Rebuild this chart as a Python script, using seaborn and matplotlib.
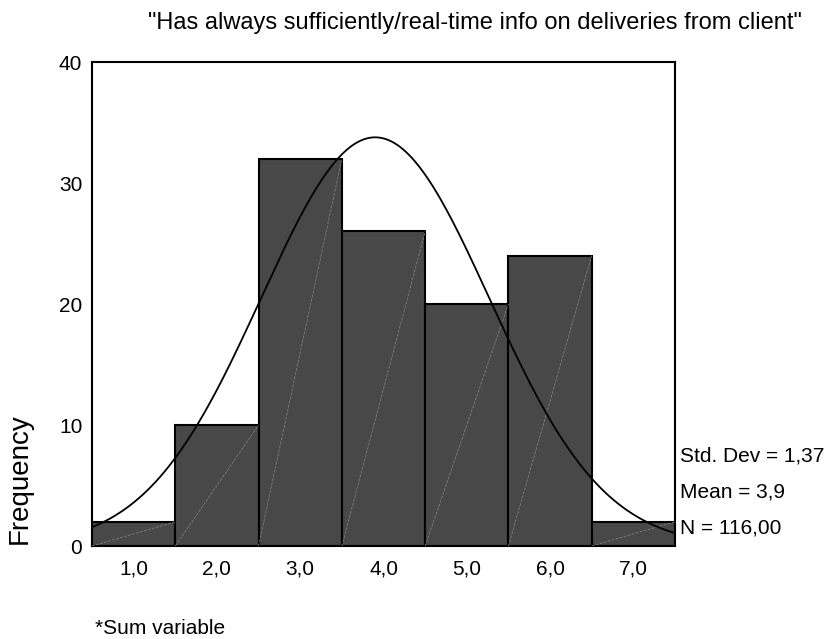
import numpy as np
import pandas as pd
import matplotlib
matplotlib.use("Agg")
import matplotlib.pyplot as plt
import seaborn as sns

# values
scores = [1, 2, 3, 4, 5, 6, 7]
counts = [2, 10, 32, 26, 20, 24, 2]
tick_labels = ["1,0", "2,0", "3,0", "4,0", "5,0", "6,0", "7,0"]
mean, std_dev, n = 3.9, 1.37, 116

df = pd.DataFrame({"score": scores, "count": counts})

sns.set_style("white")
plt.rcParams["font.family"] = ["Liberation Sans", "DejaVu Sans"]
plt.rcParams["text.color"] = "black"
plt.rcParams["axes.labelcolor"] = "black"
plt.rcParams["xtick.color"] = "black"
plt.rcParams["ytick.color"] = "black"

fig = plt.figure(figsize=(8.31, 6.39), dpi=100)
ax = fig.add_axes([0.1107, 0.1455, 0.7016, 0.7574])

sns.histplot(data=df, x="score", weights="count", discrete=True,
             color="#484848", edgecolor="black", linewidth=1.5, alpha=1, ax=ax)

# faint diagonal streak inside each bar
for p in ax.patches:
    x0, y0 = p.get_x(), p.get_y()
    ax.plot([x0, x0 + p.get_width()], [y0, y0 + p.get_height()],
            color="#8a8a8a", lw=0.5, ls="--", dashes=(4, 2), zorder=3)

# normal curve
xs = np.linspace(0.5, 7.5, 400)
ys = n * 1.0 / (std_dev * np.sqrt(2 * np.pi)) * np.exp(-0.5 * ((xs - mean) / std_dev) ** 2)
ax.plot(xs, ys, color="black", lw=1.3, zorder=4)

ax.set_xlim(0.5, 7.5)
ax.set_ylim(0, 40)
ax.set_xticks(scores)
ax.set_xticklabels(tick_labels)
ax.set_yticks([0, 10, 20, 30, 40])
ax.tick_params(axis="both", which="both", direction="out", length=3, width=3,
               labelsize=15, color="black", labelcolor="black", pad=7)
ax.tick_params(axis="y", pad=4)
for s in ax.spines.values():
    s.set_visible(True)
    s.set_color("black")
    s.set_linewidth(1.5)

ax.set_xlabel("")
ax.set_ylabel("Frequency", fontsize=20, color="black")
ax.yaxis.set_label_coords(-0.101, 0.14)

ax.set_title('"Has always sufficiently/real-time info on deliveries from client"',
             fontsize=17, pad=24, x=0.657, color="black")

ax.text(1.008, 0.186, "Std. Dev = 1,37", transform=ax.transAxes, fontsize=15, va="center")
ax.text(1.008, 0.112, "Mean = 3,9", transform=ax.transAxes, fontsize=15, va="center")
ax.text(1.008, 0.037, "N = 116,00", transform=ax.transAxes, fontsize=15, va="center")

fig.text(0.114, 0.017, "*Sum variable", fontsize=15, va="center")

fig.savefig("out.png", dpi=100)
